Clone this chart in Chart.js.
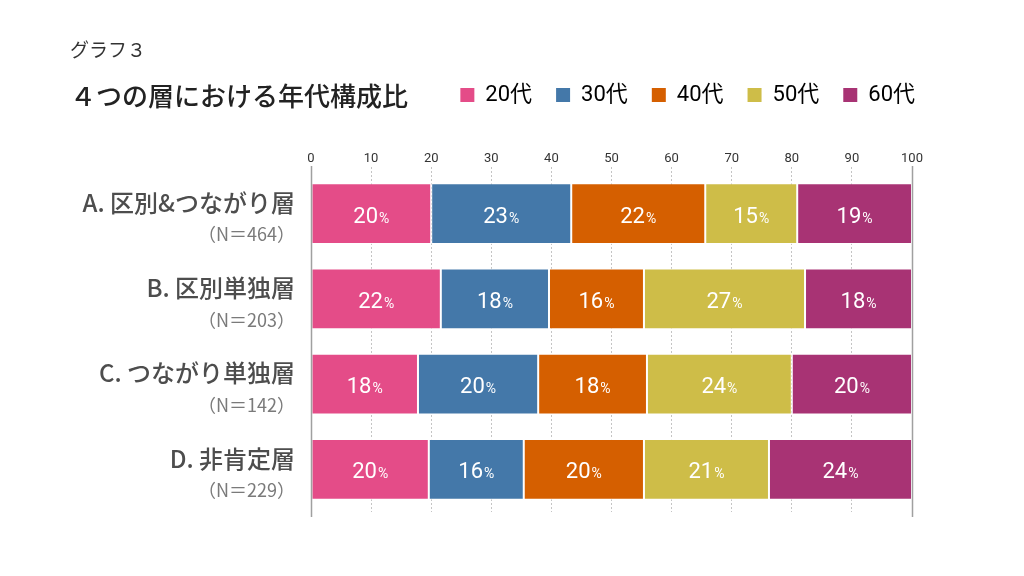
<!DOCTYPE html>
<html>
<head>
<meta charset="utf-8">
<script src="https://cdn.jsdelivr.net/npm/chart.js@4"></script>
<style>
  html, body { margin: 0; padding: 0; background: #fff; }
  #wrap { width: 1024px; height: 576px; }
</style>
</head>
<body>
<div id="wrap"><canvas id="ageChart" width="1024" height="576"></canvas></div>
<script>
// Groups and sample sizes
const groupNames = ['A. 区別&つながり層', 'B. 区別単独層', 'C. つながり単独層', 'D. 非肯定層'];
const sampleSizes = ['（N＝464）', '（N＝203）', '（N＝142）', '（N＝229）'];

// Age bands
const ageBands = ['20代', '30代', '40代', '50代', '60代'];
const ageColors = ['#e44c88', '#4478a9', '#d55f00', '#cebd48', '#a83374'];

// Share per age band (%), one value per group
const share20s = [20.0, 21.6, 17.8, 19.6];
const share30s = [23.3, 18.0, 20.0, 15.8];
const share40s = [22.3, 15.8, 18.1, 20.0];
const share50s = [15.3, 26.8, 24.1, 20.8];
const share60s = [19.1, 17.8, 20.0, 23.8];

// Axis ticks
const xTicks = [0, 10, 20, 30, 40, 50, 60, 70, 80, 90, 100];

const FONT = 'Roboto, "Noto Sans CJK JP", sans-serif';
const JP_FONT = '"Noto Sans CJK JP", sans-serif';

const seriesValues = [share20s, share30s, share40s, share50s, share60s];

// Headings drawn on the canvas
const headingPlugin = {
    id: 'headings',
    afterDraw(chart) {
        const ctx = chart.ctx;
        ctx.save();
        ctx.fillStyle = '#333';
        ctx.textAlign = 'left';
        ctx.textBaseline = 'middle';
        ctx.font = '400 19px ' + JP_FONT;
        ctx.fillText('グラフ３', 70, 50);
        ctx.fillStyle = '#222';
        ctx.font = '500 26px ' + JP_FONT;
        ctx.fillText('４つの層における年代構成比', 70, 96);
        ctx.restore();
    }
};

// Move the legend onto the title row
const legendShiftPlugin = {
    id: 'legendShift',
    afterLayout(chart) {
        const lg = chart.legend;
        if (!lg) return;
        const dx = 27, dy = -15;
        lg.left += dx;
        lg.right += dx;
        lg.top += dy;
        lg.bottom += dy;
        if (lg.legendHitBoxes) {
            lg.legendHitBoxes.forEach(b => { b.left += dx; b.top += dy; });
        }
    }
};

// Group labels on the left, two lines each
const groupLabelPlugin = {
    id: 'groupLabels',
    afterDraw(chart) {
        const ctx = chart.ctx;
        const yScale = chart.scales.y;
        ctx.save();
        ctx.textAlign = 'right';
        ctx.textBaseline = 'middle';
        groupNames.forEach((name, i) => {
            const y = yScale.getPixelForValue(i);
            ctx.fillStyle = '#4d4d4d';
            ctx.font = '500 24px ' + JP_FONT;
            ctx.fillText(name, 295, y - 11);
            ctx.fillStyle = '#7a7a7a';
            ctx.font = '400 18px ' + JP_FONT;
            ctx.fillText(sampleSizes[i], 295, y + 21);
        });
        ctx.restore();
    }
};

// Frame lines at 0 and 100
const framePlugin = {
    id: 'frame',
    afterDatasetsDraw(chart) {
        const ctx = chart.ctx;
        const x = chart.scales.x;
        const area = chart.chartArea;
        ctx.save();
        ctx.strokeStyle = '#a0a0a0';
        ctx.lineWidth = 1.5;
        [0, 100].forEach(v => {
            const px = Math.round(x.getPixelForValue(v)) + 0.5;
            ctx.beginPath();
            ctx.moveTo(px, area.top - 5);
            ctx.lineTo(px, area.bottom + 5);
            ctx.stroke();
        });
        ctx.restore();
    }
};

// Percent labels inside the bars
const barLabelPlugin = {
    id: 'barLabels',
    afterDatasetsDraw(chart) {
        const ctx = chart.ctx;
        ctx.save();
        ctx.fillStyle = '#fff';
        ctx.textBaseline = 'alphabetic';
        ctx.textAlign = 'left';
        chart.data.datasets.forEach((ds, di) => {
            const meta = chart.getDatasetMeta(di);
            meta.data.forEach((bar, i) => {
                const num = String(Math.round(ds.data[i]));
                ctx.font = '400 22px ' + FONT;
                const w1 = ctx.measureText(num).width;
                ctx.font = '400 14px ' + FONT;
                const w2 = ctx.measureText('%').width;
                const cx = (bar.x + bar.base) / 2;
                const start = cx - (w1 + w2 + 1) / 2;
                const base = bar.y + 9;
                ctx.font = '400 22px ' + FONT;
                ctx.fillText(num, start, base);
                ctx.font = '400 14px ' + FONT;
                ctx.fillText('%', start + w1 + 1, base);
            });
        });
        ctx.restore();
    }
};

const ctx = document.getElementById('ageChart').getContext('2d');

new Chart(ctx, {
    type: 'bar',
    data: {
        labels: groupNames,
        datasets: ageBands.map((band, k) => ({
            label: band,
            data: seriesValues[k],
            backgroundColor: ageColors[k],
            borderColor: 'rgba(255,255,255,0.85)',
            borderWidth: 1,
            borderSkipped: false,
            barPercentage: 0.9,
            categoryPercentage: 0.79
        }))
    },
    options: {
        indexAxis: 'y',
        responsive: false,
        animation: false,
        devicePixelRatio: 1,
        layout: {
            padding: { top: 75, right: 112, bottom: 64, left: 0 }
        },
        plugins: {
            legend: {
                position: 'top',
                align: 'end',
                labels: {
                    boxWidth: 14,
                    boxHeight: 14,
                    padding: 24,
                    color: '#222',
                    font: { family: FONT, size: 22 },
                    generateLabels(chart) {
                        return ageBands.map((band, k) => ({
                            text: band,
                            fillStyle: ageColors[k],
                            strokeStyle: ageColors[k],
                            lineWidth: 0,
                            datasetIndex: k
                        }));
                    }
                }
            },
            tooltip: { enabled: false }
        },
        scales: {
            x: {
                position: 'top',
                stacked: true,
                min: 0,
                max: 100,
                afterBuildTicks(scale) {
                    scale.ticks = xTicks.map(v => ({ value: v }));
                },
                afterFit(scale) {
                    scale.height = 40;
                },
                ticks: {
                    color: '#333',
                    font: { family: FONT, size: 13 },
                    padding: 0
                },
                grid: {
                    color: ctx2 => (ctx2.tick && (ctx2.tick.value === 0 || ctx2.tick.value === 100)) ? 'rgba(0,0,0,0)' : '#c4c4c4',
                    tickColor: ctx2 => (ctx2.tick && (ctx2.tick.value === 0 || ctx2.tick.value === 100)) ? 'rgba(0,0,0,0)' : '#c4c4c4',
                    lineWidth: 1,
                    tickLength: 4,
                    tickBorderDash: [2, 2]
                },
                border: { display: false, dash: [2, 2] }
            },
            y: {
                stacked: true,
                afterFit(scale) {
                    scale.width = 311;
                },
                ticks: { display: false },
                grid: { display: false },
                border: { display: false }
            }
        }
    },
    plugins: [legendShiftPlugin, headingPlugin, groupLabelPlugin, framePlugin, barLabelPlugin]
});
</script>
</body>
</html>
